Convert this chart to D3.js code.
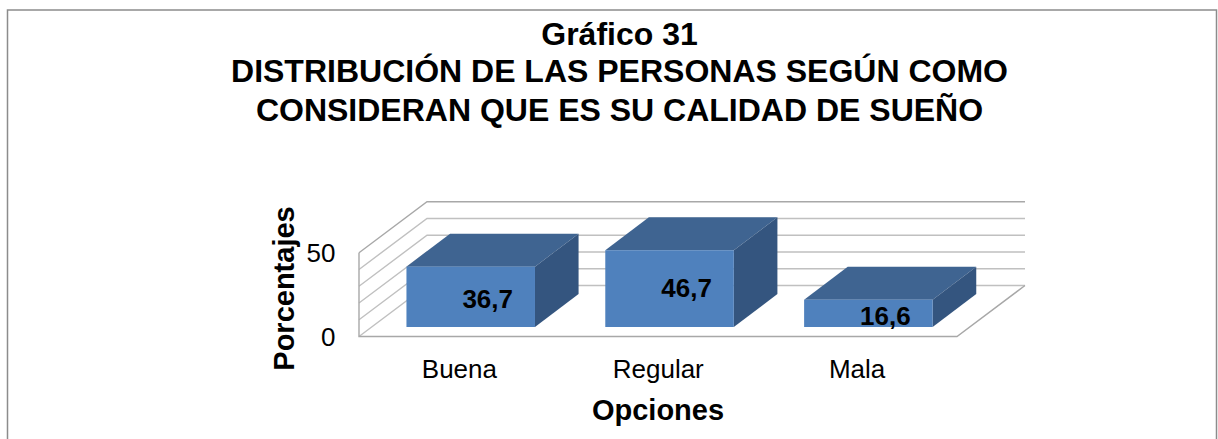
<!DOCTYPE html>
<html><head><meta charset="utf-8">
<script src="https://cdn.jsdelivr.net/npm/d3@7"></script>
<style>html,body{margin:0;padding:0;background:#fff;overflow:hidden}svg{display:block}text{font-family:"Liberation Sans",Arial,sans-serif;fill:#000}</style>
</head><body><script>
const categories=["Buena","Regular","Mala"];
const values=[36.7,46.7,16.6];
const valueLabels=["36,7","46,7","16,6"];
const gridTicks=[0,10,20,30,40,50];
const axisTicks=[0,50];
const titleLines=["Gráfico 31","DISTRIBUCIÓN DE LAS PERSONAS SEGÚN COMO","CONSIDERAN QUE ES SU CALIDAD DE SUEÑO"];
const yTitle="Porcentajes",xTitle="Opciones";

const W=1218,H=439;
const svg=d3.select("body").append("svg").attr("width",W).attr("height",H);
const floorY=336.5, floorDx=68, floorDy=51, barDx=43.6, barDy=33, barOffX=12.3, barOffY=9.5;
const x=d3.scaleBand().domain(categories).range([359,955.5]).paddingInner(.3536).paddingOuter(.1768);
const y=d3.scaleLinear().domain([0,50]).range([floorY,252.7]);
const barH=d3.scaleLinear().domain([0,50]).range([0,82.2]);

// frame (no bottom edge)
svg.append("path").attr("d","M7.5 439V10H1216.5V439").attr("fill","none").attr("stroke","#8c8c8c").attr("stroke-width",1.5);

// title
svg.append("g").selectAll("text").data(titleLines).join("text")
  .attr("x",619.5).attr("y",(d,i)=>[45,82,121][i]).attr("text-anchor","middle")
  .attr("font-weight","bold").attr("font-size",32).text(d=>d);

// walls
const grid=svg.append("g").attr("fill","none");
grid.selectAll("path").data(gridTicks).join("path")
  .attr("d",d=>`M359 ${y(d)}L${359+floorDx} ${y(d)-floorDy}H${957+floorDx}`)
  .attr("stroke",d=>d===50?"#a8a8a8":"#c0c0c0").attr("stroke-width",1.4);
svg.append("path").attr("fill","none").attr("stroke","#a8a8a8").attr("stroke-width",1.4)
  .attr("d",`M359 ${y(50)}V${floorY}H957L${957+floorDx} ${floorY-floorDy}`);

// bars
const barBase=floorY-barOffY;
const bar=svg.append("g").selectAll("g").data(categories).join("g");
const h=i=>barH(values[i]);
bar.append("path").attr("fill","#3F6491").attr("d",(c,i)=>{const l=x(c)+barOffX,r=l+x.bandwidth(),t=barBase-h(i);
  return `M${l} ${t}L${l+barDx} ${t-barDy}H${r+barDx}L${r} ${t}Z`;});
bar.append("path").attr("fill","#34557F").attr("d",(c,i)=>{const r=x(c)+barOffX+x.bandwidth(),t=barBase-h(i);
  return `M${r} ${t}L${r+barDx} ${t-barDy}V${barBase-barDy}L${r} ${barBase}Z`;});
bar.append("rect").attr("fill","#4F81BD").attr("x",c=>x(c)+barOffX).attr("y",(c,i)=>barBase-h(i))
  .attr("width",x.bandwidth()).attr("height",(c,i)=>h(i));
bar.append("text").attr("x",c=>x(c)+barOffX+x.bandwidth()/2+17).attr("y",(c,i)=>[308,297,325][i])
  .attr("text-anchor","middle").attr("font-weight","bold").attr("font-size",26).text((c,i)=>valueLabels[i]);

// axis labels
svg.append("g").selectAll("text").data(axisTicks).join("text")
  .attr("x",335.5).attr("y",d=>y(d)+9.5).attr("text-anchor","end").attr("font-size",26).text(d=>d);
svg.append("g").selectAll("text").data(categories).join("text")
  .attr("x",c=>x(c)+x.bandwidth()/2+1).attr("y",378).attr("text-anchor","middle").attr("font-size",26).text(c=>c);
svg.append("text").attr("transform","translate(294,288.5) rotate(-90)").attr("text-anchor","middle")
  .attr("font-weight","bold").attr("font-size",29).text(yTitle);
svg.append("text").attr("x",658).attr("y",420).attr("text-anchor","middle")
  .attr("font-weight","bold").attr("font-size",29).text(xTitle);
</script></body></html>
